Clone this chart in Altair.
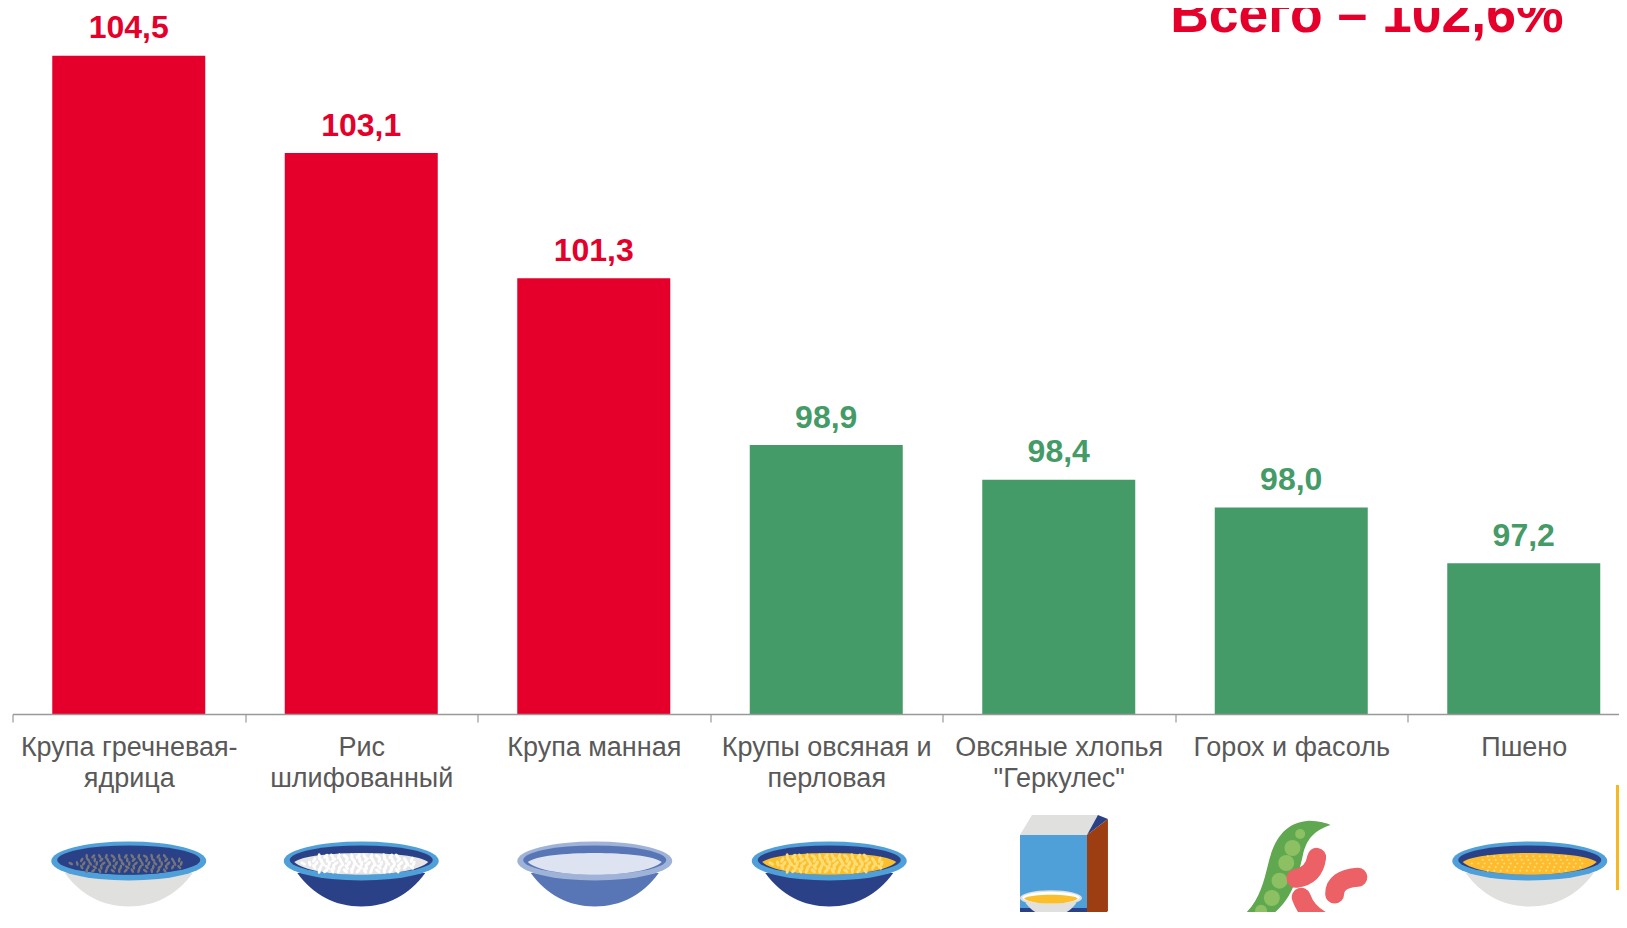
import base64
import altair as alt
import pandas as pd

categories = ["Крупа гречневая-\nядрица", "Рис\nшлифованный", "Крупа манная",
              "Крупы овсяная и\nперловая", "Овсяные хлопья\n\"Геркулес\"",
              "Горох и фасоль", "Пшено"]
values = [104.5, 103.1, 101.3, 98.9, 98.4, 98.0, 97.2]
labels = ["104,5", "103,1", "101,3", "98,9", "98,4", "98,0", "97,2"]
groups = ["up", "up", "up", "down", "down", "down", "down"]
total_label = ["Всего – 102,6%"]
y_floor = [95.03]

RED, GREEN = "#E4002B", "#459B68"
RIM, NAVY, GREY = "#4F9FD9", "#2B4187", "#E0E0DF"
W, H = 232, 116


def bowl(cx, cy, s, rim, body, inner, content, grain, dots=False, size=1.0):
    rx, ry = 77.5 * s, 19.5 * s
    out = [f'<path d="M{cx-64*s} {cy+12*s} C{cx-48*s} {cy+34*s} {cx-26*s} {cy+45.5*s} {cx} {cy+45.5*s} '
           f'C{cx+26*s} {cy+45.5*s} {cx+48*s} {cy+34*s} {cx+64*s} {cy+12*s} Z" fill="{body}"/>',
           f'<ellipse cx="{cx}" cy="{cy}" rx="{rx}" ry="{ry}" fill="{rim}"/>',
           f'<ellipse cx="{cx}" cy="{cy-1*s}" rx="{rx-6*s}" ry="{ry-5*s}" fill="{inner}"/>']
    out.append(f'<path d="M{cx-67*s} {cy+1*s} C{cx-52*s} {cy-11*s} {cx+52*s} {cy-11*s} {cx+67*s} {cy+1*s} '
               f'C{cx+50*s} {cy+18*s} {cx-50*s} {cy+18*s} {cx-67*s} {cy+1*s} Z" fill="{content}"/>')
    if grain:
        for row in range(-2, 3):
            half = 58 - 8 * abs(row)
            dx = -half
            n = 0
            while dx <= half:
                px = cx + (dx + (row % 2) * 3) * s
                py = cy + (2.5 + row * 3.6) * s
                if dots:
                    out.append(f'<circle cx="{px}" cy="{py}" r="{1.1*s}" fill="{grain}"/>')
                else:
                    rot = (n * 47 + row * 31) % 120 - 60
                    out.append(f'<ellipse cx="{px}" cy="{py}" rx="{1.3*s*size}" ry="{2.6*s*size}" fill="{grain}" '
                               f'transform="rotate({rot} {px} {py})"/>')
                dx += 6.5
                n += 1
    return "".join(out)


def uri(body):
    svg = f'<svg xmlns="http://www.w3.org/2000/svg" width="{W}" height="{H}" viewBox="0 0 {W} {H}">{body}</svg>'
    return "data:image/svg+xml;base64," + base64.b64encode(svg.encode()).decode()


def box():
    ox, oy = 1058.75 - 116, 812
    def p(x, y):
        return f"{x-ox:.1f},{y-oy:.1f}"
    parts = [
        f'<polygon points="{p(1020,836)} {p(1032,816)} {p(1098,816)} {p(1087,836)}" fill="{GREY}"/>',
        f'<polygon points="{p(1098,816)} {p(1108,820)} {p(1087,836)}" fill="{NAVY}"/>',
        f'<polygon points="{p(1087,836)} {p(1108,820)} {p(1108,912)} {p(1087,932)}" fill="#9C3D12"/>',
        f'<rect x="{1020-ox}" y="{836-oy}" width="67" height="73" fill="{RIM}"/>',
        f'<rect x="{1020-ox}" y="{909-oy}" width="67" height="24" fill="{NAVY}"/>',
        bowl(1051 - ox, 899 - oy, 0.4, GREY, GREY, "#FFFFFF", "#FBBF2C", None),
    ]
    return "".join(parts)


def peas():
    ox, oy = 1291.25 - 116, 812
    def z(zx, zy):
        return f"{820+zx/1.943-ox:.1f} {700+zy/3-oy:.1f}"
    parts = [f'<path d="M{z(790,680)} C{z(850,640)} {z(860,560)} {z(870,500)} C{z(880,430)} {z(900,370)} {z(950,365)} '
             f'C{z(970,366)} {z(985,372)} {z(992,378)} C{z(960,395)} {z(945,420)} {z(938,470)} '
             f'C{z(925,560)} {z(905,660)} {z(820,684)} Z" fill="#5FA84F"/>']
    for zx, zy, r in [(933, 405, 5), (918, 447, 8), (906, 492, 8), (893, 545, 8), (878, 597, 8), (857, 635, 6), (835, 655, 4)]:
        parts.append(f'<circle cx="{z(zx,zy).split()[0]}" cy="{z(zx,zy).split()[1]}" r="{r}" fill="#8CC063"/>')
    for a, b, c_ in [((965, 475), (960, 530), (925, 538)),
                     ((1045, 535), (1000, 540), (1000, 585)),
                     ((935, 595), (945, 640), (975, 665))]:
        parts.append(f'<path d="M{z(*a)} Q{z(*b)} {z(*c_)}" fill="none" stroke="#EC6165" stroke-width="19" stroke-linecap="round"/>')
    return "".join(parts)


c = 116
icons = [
    bowl(c, 50, 1, RIM, GREY, NAVY, NAVY, "#77767A"),
    bowl(c, 50, 1, RIM, NAVY, NAVY, "#E6E6E6", "#FFFFFF", size=1.2),
    bowl(c + 1, 50, 1, "#9FB3D8", "#5876B5", "#5876B5", "#DDE3F0", None),
    bowl(c + 3, 50, 1, RIM, NAVY, NAVY, "#FBBF2C", "#FFDD77", size=1.2),
    box(),
    peas(),
    bowl(c + 6, 50, 1, RIM, GREY, NAVY, "#FDBB2D", "#FFDD77", dots=True),
]

df = pd.DataFrame({"category": categories, "value": values, "label": labels,
                   "group": groups, "icon": [uri(i) for i in icons]})

xscale = alt.Scale(paddingInner=0, paddingOuter=0, range=[0, 1627.5])
x = alt.X("category:N", sort=categories, title=None, scale=xscale,
          axis=alt.Axis(labelAngle=0, labelExpr="split(datum.label, '\\n')", tickBand="extent",
                        labelFont="Liberation Sans", labelFontSize=27, labelColor="#595959",
                        labelLineHeight=31, labelPadding=12, labelLimit=300, tickSize=8,
                        tickColor="#999999", domainColor="#999999", tickWidth=1.2, domainWidth=1.5,
                        labelBaseline="top", grid=False, zindex=1))
yscale = alt.Scale(domain=[y_floor[0], 105.188], nice=False, zero=False)
y = alt.Y("value:Q", title=None, axis=None, scale=yscale, stack=None)
color = alt.Color("group:N", legend=None, scale=alt.Scale(domain=["up", "down"], range=[RED, GREEN]))

bars = alt.Chart(df).mark_bar(width=153).encode(x=x, y=y, y2=alt.Y2(datum=y_floor[0]), color=color)
text = alt.Chart(df).mark_text(font="Liberation Sans", fontWeight="bold", fontSize=32, dy=-17.5,
                               baseline="alphabetic").encode(x=alt.X("category:N", sort=categories), y=y, text="label:N", color=color)
imgs = alt.Chart(df).mark_image(width=W, height=H, align="center", baseline="top").encode(
    x=alt.X("category:N", sort=categories), y=alt.value(803), url="icon:N")
total = alt.Chart(pd.DataFrame({"t": total_label})).mark_text(
    font="Liberation Sans", fontWeight="bold", fontSize=53.5, color=RED, align="right", baseline="alphabetic"
).encode(x=alt.value(1551), y=alt.value(24), text="t:N")
gold = alt.Chart(pd.DataFrame({"t": [0]})).mark_rule(color="#F5B81F", strokeWidth=3).encode(
    x=alt.value(1605), y=alt.value(777), y2=alt.value(882))

chart = alt.layer(bars, text, imgs, total, gold).properties(
    width=1606.5, height=706,
    autosize=alt.AutoSizeParams(type="none"),
    padding={"left": 4.5, "top": 0, "right": 0, "bottom": 198},
).configure_view(stroke=None)

chart.save("out.html", embed_options={"renderer": "svg", "actions": False})
